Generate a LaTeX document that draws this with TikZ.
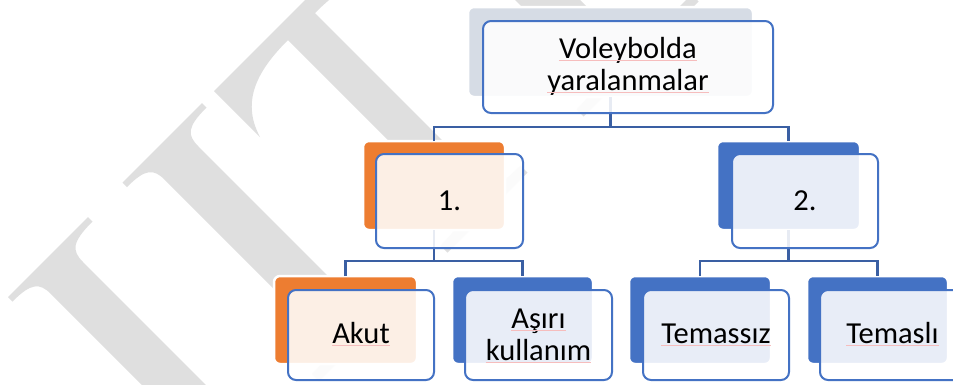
\documentclass[tikz,border=0pt]{standalone}
\usepackage{fontspec}
\setmainfont{Carlito}
\definecolor{accblue}{HTML}{4472C4}
\definecolor{accorange}{HTML}{ED7D31}
\definecolor{topback}{HTML}{D6DCE5}
\definecolor{connblue}{HTML}{3A5FA3}
\definecolor{wmgray}{HTML}{DFDFDF}
\definecolor{squig}{HTML}{F6BDBD}
\begin{document}
\begin{tikzpicture}[x=1pt,y=-1pt,
  backbox/.style={rectangle, rounded corners=6pt, draw=white, line width=2.5pt, inner sep=0pt, outer sep=0pt},
  frontbox/.style={rectangle, rounded corners=8pt, draw=accblue, line width=2pt, fill=white, fill opacity=0.88, inner sep=0pt, outer sep=0pt},
  conn/.style={draw=connblue, line width=2.3pt},
  lbl/.style={anchor=base, inner sep=0pt, font=\fontsize{30.5}{32}\selectfont, text=black},
  sq/.style={draw=squig, line width=0.7pt}]
\useasboundingbox (0,0) rectangle (953,384);
\fill[white] (0,0) rectangle (953,384);
% watermark (rotated serif letters)
\begin{scope}[x={(0.5pt,0.5pt)}, y={(0.5pt,-0.5pt)}]
\fill[wmgray] (-289,305) -- (-129,305) -- (-129,314) .. controls (-170,314) and (-179,322) .. (-179,345) -- (-179,800) -- (-243,800) -- (-243,345) .. controls (-243,322) and (-252,314) .. (-289,314) -- cycle;
\fill[wmgray] (-60,305) -- (99,305) -- (99,314) .. controls (60,314) and (52,322) .. (52,345) -- (52,660) .. controls (52,680) and (60,686) .. (97,686) -- (97,700) -- (-62,700) -- (-62,686) .. controls (-25,686) and (-15,680) .. (-15,660) -- (-15,345) .. controls (-15,322) and (-23,314) .. (-60,314) -- cycle;
\fill[wmgray] (123,305) -- (427,305) -- (427,397) .. controls (410,340) and (360,328) .. (302,328) -- (302,660) .. controls (302,680) and (310,686) .. (355,686) -- (355,700) -- (195,700) -- (195,686) .. controls (240,686) and (248,680) .. (248,660) -- (248,328) .. controls (190,328) and (140,340) .. (123,397) -- cycle;
\fill[wmgray] (515,300) -- (580,300) -- (580,660) .. controls (580,680) and (590,686) .. (640,686) -- (697,686) -- (697,700) -- (467,700) -- (467,686) .. controls (505,686) and (515,680) .. (515,660) -- cycle;
\end{scope}
% back boxes
\node[backbox, fill=topback, minimum width=285pt, minimum height=90pt] (tb) at (610.5,52) {};
\node[backbox, fill=accorange, minimum width=142pt, minimum height=89pt] (b1) at (434,185.5) {};
\node[backbox, fill=accblue, minimum width=143pt, minimum height=89pt] (b2) at (788.5,185.5) {};
\node[backbox, fill=accorange, minimum width=143pt, minimum height=88pt] (c1) at (345.5,320) {};
\node[backbox, fill=accblue, minimum width=141pt, minimum height=88pt] (c2) at (522.5,320) {};
\node[backbox, fill=accblue, minimum width=142pt, minimum height=88pt] (c3) at (700,320) {};
\node[backbox, fill=accblue, minimum width=141pt, minimum height=88pt] (c4) at (877.5,320) {};
% connectors
\coordinate (j0) at (610.5,127);
\coordinate (j1) at (434,261);
\coordinate (j2) at (788.5,261);
\draw[conn] (tb.south) -- (j0);
\draw[conn] (b1.north) |- (j0) -| (b2.north);
\draw[conn] (b1.south) -- (j1);
\draw[conn] (c1.north) |- (j1) -| (c2.north);
\draw[conn] (b2.south) -- (j2);
\draw[conn] (c3.north) |- (j2) -| (c4.north);
% front boxes
\node[frontbox, minimum width=290pt, minimum height=92pt] (tf) at (628,67) {};
\node[frontbox, minimum width=147pt, minimum height=94pt] (f1) at (449.5,201) {};
\node[frontbox, minimum width=146pt, minimum height=94pt] (f2) at (805,201) {};
\node[frontbox, minimum width=146pt, minimum height=90pt] (g1) at (361,335) {};
\node[frontbox, minimum width=147pt, minimum height=90pt] (g2) at (538.5,335) {};
\node[frontbox, minimum width=146pt, minimum height=90pt] (g3) at (716,335) {};
\node[frontbox, minimum width=146pt, minimum height=90pt] (g4) at (893,335) {};
% texts
\node[lbl] (t1a) at (628,58) {Voleybolda};
\node[lbl] (t1b) at (628,90) {yaralanmalar};
\node[lbl] (t2) at (449.5,210) {1.};
\node[lbl] (t3) at (805,210) {2.};
\node[lbl] (t4) at (361,343) {Akut};
\node[lbl] (t5a) at (538.5,328) {Aşırı};
\node[lbl] (t5b) at (538.5,360) {kullanım};
\node[lbl] (t6) at (716,343) {Temassız};
\node[lbl] (t7) at (892.5,343) {Temaslı};
\foreach \n in {t1a,t1b,t4,t5a,t5b,t6,t7}
  \draw[sq] ([yshift=-2.5pt]\n.base west) -- ([yshift=-2.5pt]\n.base east);
\end{tikzpicture}
\end{document}
